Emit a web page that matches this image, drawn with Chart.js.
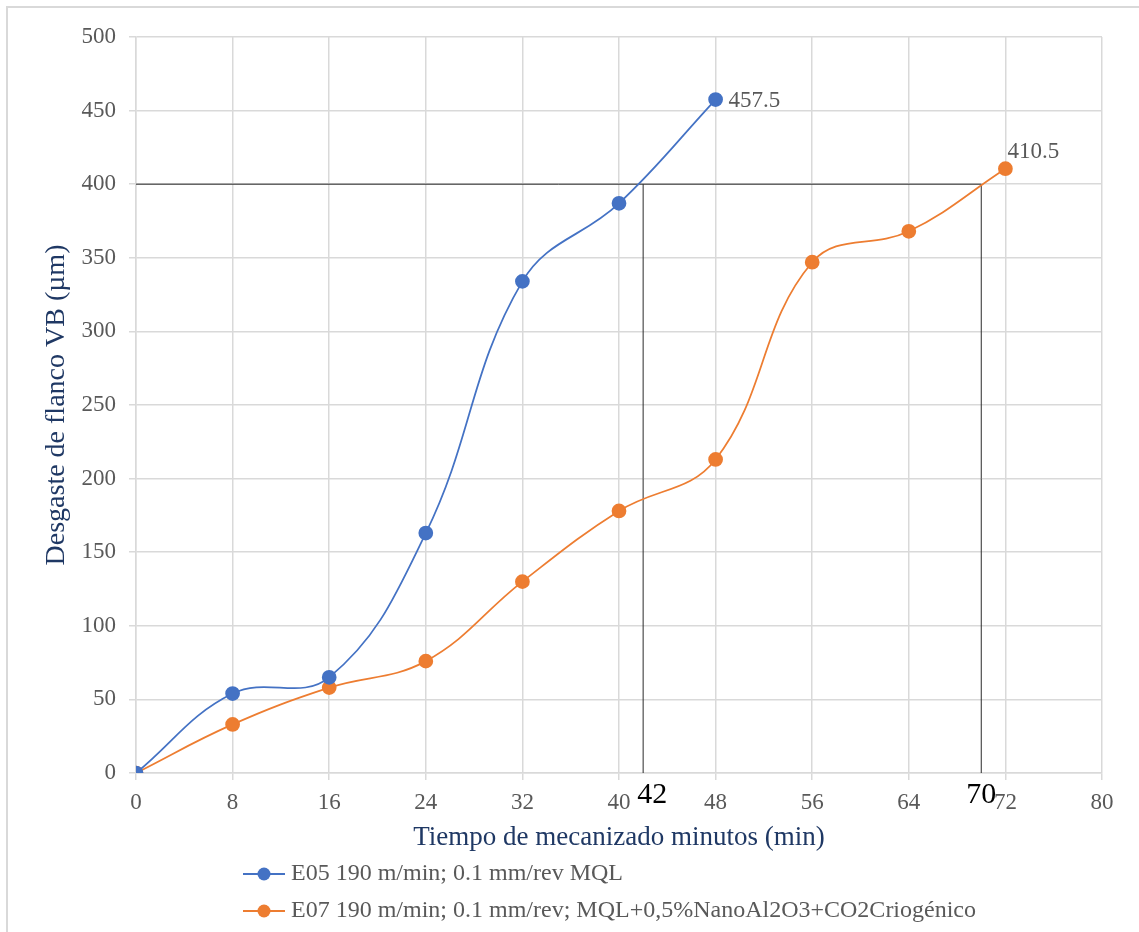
<!DOCTYPE html>
<html>
<head>
<meta charset="utf-8">
<script src="https://cdn.jsdelivr.net/npm/chart.js@4"></script>
<style>
  html, body { margin: 0; padding: 0; background: #fff; }
  #wrap { position: relative; width: 1139px; height: 932px; }
</style>
</head>
<body>
<div id="wrap"><canvas id="wearChart" width="1139" height="932"></canvas></div>
<script>
// Flank wear vs machining time
const minutes = [0, 8, 16, 24, 32, 40, 48, 56, 64, 72];
const wearE05 = [0, 54, 65, 163, 334, 387, 457.5];
const wearE07 = [0, 33, 58, 76, 130, 178, 213, 347, 368, 410.5];
const wearLimit = 400;
const lifeTimes = [42, 70];
const seriesNames = [
    'E05 190 m/min; 0.1 mm/rev MQL',
    'E07 190 m/min; 0.1 mm/rev; MQL+0,5%NanoAl2O3+CO2Criogénico'
];

const FONT = "'Liberation Serif', 'Times New Roman', serif";
const GREY_TEXT = '#595959';
const GRID = '#d9d9d9';
const BLUE = '#4472c4';
const ORANGE = '#ed7d31';

function toPoints(xs, ys) {
    return ys.map((y, i) => ({ x: xs[i], y: y }));
}

function seriesDataset(label, data, color) {
    return {
        label: label,
        data: data,
        borderColor: color,
        backgroundColor: color,
        pointBackgroundColor: color,
        pointBorderColor: color,
        pointRadius: 6.5,
        pointHoverRadius: 6.5,
        borderWidth: 1.75,
        tension: 0.4,
        fill: false
    };
}

function guideDataset(data) {
    return {
        label: 'guide',
        data: data,
        borderColor: '#2b2b2b',
        borderWidth: 1,
        pointRadius: 0,
        tension: 0,
        fill: false
    };
}

// outer frame
const framePlugin = {
    id: 'frame',
    beforeDraw(chart) {
        const ctx = chart.ctx;
        ctx.save();
        ctx.fillStyle = '#fff';
        ctx.fillRect(0, 0, chart.width, chart.height);
        ctx.strokeStyle = GRID;
        ctx.lineWidth = 2;
        ctx.strokeRect(7, 7, chart.width + 50, chart.height + 50);
        ctx.restore();
    }
};

// end-point values and tool-life labels
const labelPlugin = {
    id: 'labels',
    afterDatasetsDraw(chart) {
        const ctx = chart.ctx;
        const x = chart.scales.x, y = chart.scales.y;
        ctx.save();
        ctx.font = '23px ' + FONT;
        ctx.fillStyle = GREY_TEXT;
        ctx.textBaseline = 'middle';
        ctx.textAlign = 'left';
        const lastE05 = wearE05.length - 1;
        ctx.fillText(String(wearE05[lastE05]),
            x.getPixelForValue(minutes[lastE05]) + 13, y.getPixelForValue(wearE05[lastE05]) + 1);
        const lastE07 = wearE07.length - 1;
        ctx.fillText(String(wearE07[lastE07]),
            x.getPixelForValue(minutes[lastE07]) + 2, y.getPixelForValue(wearE07[lastE07]) - 17);

        ctx.font = '30px ' + FONT;
        ctx.fillStyle = '#000';
        ctx.textAlign = 'center';
        const offsets = [9, 0];
        lifeTimes.forEach((t, i) => {
            ctx.fillText(String(t), x.getPixelForValue(t) + offsets[i], y.bottom + 22);
        });
        ctx.restore();
    }
};

// two-row legend under the x title
const legendPlugin = {
    id: 'rowLegend',
    afterDraw(chart) {
        const ctx = chart.ctx;
        const rows = [874, 911];
        const x0 = 243;
        ctx.save();
        ctx.font = '24px ' + FONT;
        ctx.textBaseline = 'middle';
        ctx.textAlign = 'left';
        seriesNames.forEach((name, i) => {
            const ds = chart.data.datasets[i];
            const yy = rows[i];
            ctx.strokeStyle = ds.borderColor;
            ctx.lineWidth = 2;
            ctx.beginPath();
            ctx.moveTo(x0, yy);
            ctx.lineTo(x0 + 42, yy);
            ctx.stroke();
            ctx.fillStyle = ds.borderColor;
            ctx.beginPath();
            ctx.arc(x0 + 21, yy, 6.5, 0, Math.PI * 2);
            ctx.fill();
            ctx.fillStyle = GREY_TEXT;
            ctx.fillText(name, x0 + 48, yy);
        });
        ctx.restore();
    }
};

new Chart(document.getElementById('wearChart'), {
    type: 'line',
    data: {
        datasets: [
            seriesDataset(seriesNames[0], toPoints(minutes, wearE05), BLUE),
            seriesDataset(seriesNames[1], toPoints(minutes, wearE07), ORANGE),
            guideDataset([{ x: 0, y: wearLimit }, { x: lifeTimes[1], y: wearLimit }]),
            guideDataset([{ x: lifeTimes[0], y: 0 }, { x: lifeTimes[0], y: wearLimit }]),
            guideDataset([{ x: lifeTimes[1], y: 0 }, { x: lifeTimes[1], y: wearLimit }])
        ]
    },
    options: {
        responsive: false,
        animation: false,
        events: [],
        layout: {
            padding: { top: 37, right: 37, bottom: 74, left: 36 }
        },
        plugins: {
            legend: { display: false },
            tooltip: { enabled: false }
        },
        scales: {
            x: {
                type: 'linear',
                min: 0,
                max: 80,
                afterFit(scale) { scale.height = 85; },
                ticks: {
                    stepSize: 8,
                    color: GREY_TEXT,
                    font: { family: FONT, size: 23 },
                    padding: 9
                },
                grid: { color: GRID, lineWidth: 1.5, tickLength: 7 },
                border: { color: GRID, width: 1.5 },
                title: {
                    display: true,
                    text: 'Tiempo de mecanizado minutos (min)',
                    color: '#1f3864',
                    font: { family: FONT, size: 27 },
                    padding: { top: 4, bottom: 4 }
                }
            },
            y: {
                min: 0,
                max: 500,
                afterFit(scale) { scale.width = 100; },
                ticks: {
                    stepSize: 50,
                    color: GREY_TEXT,
                    font: { family: FONT, size: 23 },
                    padding: 13
                },
                grid: { color: GRID, lineWidth: 1.5, tickLength: 7 },
                border: { color: GRID, width: 1.5 },
                title: {
                    display: true,
                    text: 'Desgaste de flanco VB (µm)',
                    color: '#1f3864',
                    font: { family: FONT, size: 28 },
                    padding: { top: 4, bottom: 4 }
                }
            }
        }
    },
    plugins: [framePlugin, labelPlugin, legendPlugin]
});
</script>
</body>
</html>
